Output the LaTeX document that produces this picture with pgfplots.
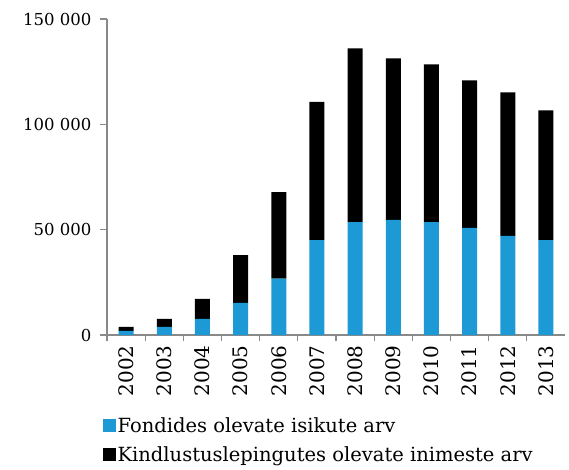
\documentclass[border=0pt]{standalone}
\usepackage{pgfplots}
\pgfplotsset{compat=1.18}
\usepackage{fontspec}
\setmainfont{DejaVu Serif}
\definecolor{fondblue}{RGB}{29,154,214}
\definecolor{axgray}{RGB}{137,137,137}
\begin{document}
\begin{tikzpicture}
\useasboundingbox (-107pt,-135pt) rectangle (462pt,335pt);
\begin{axis}[
  scale only axis,
  width=458pt, height=316pt,
  ybar stacked,
  bar width=15pt,
  xmin=-0.5, xmax=11.5,
  ymin=0, ymax=150000,
  scaled y ticks=false,
  axis x line*=bottom, axis y line*=left,
  axis line style={draw=axgray, line width=1.3pt, -},
  tick align=outside,
  xtick={0,...,11},
  xticklabels={2002,2003,2004,2005,2006,2007,2008,2009,2010,2011,2012,2013},
  x tick label style={rotate=90, anchor=east, font=\fontsize{20}{24}\selectfont},
  major x tick style={draw=none},
  minor xtick={-0.5,0.5,...,10.5},
  minor tick length=6pt,
  minor x tick style={draw=axgray, line width=1.3pt},
  ytick={0,50000,100000,150000},
  yticklabels={0,50 000,100 000,150 000},
  y tick label style={font=\fontsize{16.5}{19}\selectfont, xshift=-5pt},
  major tick length=7pt,
  y tick style={draw=axgray, line width=1.3pt},
  legend style={at={(axis description cs:-0.01,-0.255)}, anchor=north west,
    draw=none, font=\fontsize{19.5}{23}\selectfont, row sep=9pt,
    legend cell align=left, inner sep=0pt},
  legend image code/.code={\fill[#1] (0pt,-6pt) rectangle (13pt,7pt);},
]
\addplot[fill=fondblue, draw=none] coordinates {
  (0,2000) (1,3900) (2,7700) (3,15200) (4,26800) (5,45000)
  (6,53600) (7,54600) (8,53600) (9,50800) (10,47000) (11,45000)
};
\addlegendentry{Fondides olevate isikute arv}
\addplot[fill=black, draw=none] coordinates {
  (0,1900) (1,3800) (2,9400) (3,22700) (4,41000) (5,65600)
  (6,82400) (7,76700) (8,74900) (9,70100) (10,68200) (11,61600)
};
\addlegendentry{Kindlustuslepingutes olevate inimeste arv}
\end{axis}
\end{tikzpicture}
\end{document}
